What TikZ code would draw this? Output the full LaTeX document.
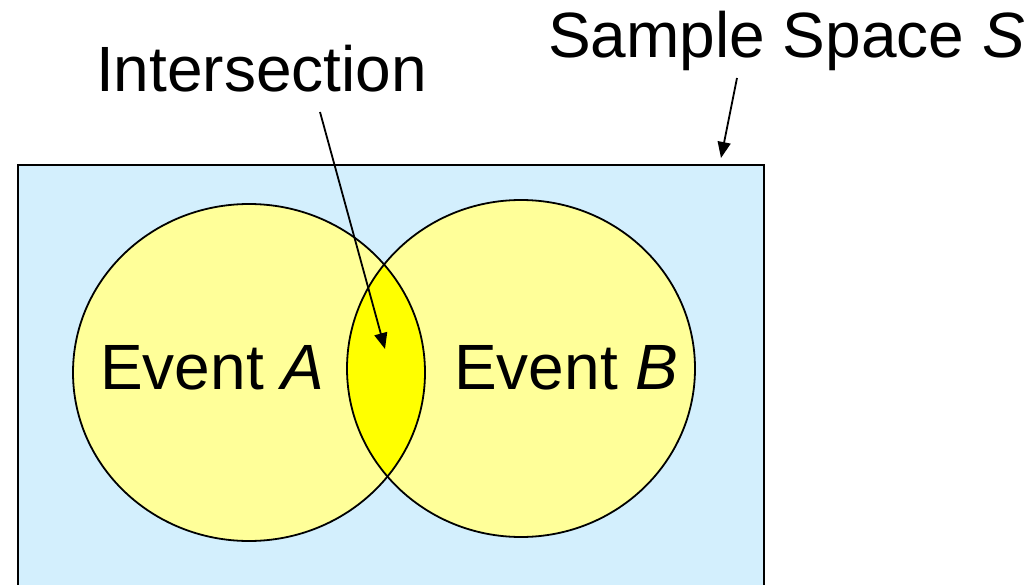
\documentclass[tikz,border=0pt]{standalone}
\usepackage{fontspec}
\setmainfont{Liberation Sans}
\usetikzlibrary{arrows.meta}
\definecolor{spaceblue}{HTML}{D3EFFD}
\definecolor{lightyel}{HTML}{FFFF99}
\definecolor{deepyel}{HTML}{FFFF00}
\tikzset{
  label/.style={inner sep=0pt, anchor=base west, font=\fontsize{64}{70}\selectfont},
  pointer/.style={line width=1.8pt, -{Triangle[length=16pt,width=13pt]}},
  outline/.style={line width=1.8pt, draw=black}
}
\begin{document}
\begin{tikzpicture}[x=1pt,y=-1pt]
\useasboundingbox (0,0) rectangle (1032,585);
\begin{scope}
\clip (0,0) rectangle (1032,585);
% sample space
\node[draw=black, line width=1.8pt, fill=spaceblue, anchor=north west, minimum width=746pt, minimum height=440pt, inner sep=0pt] (space) at (17,164) {};
% events
\fill[lightyel] (249,372.5) ellipse [x radius=176, y radius=168.5];
\fill[lightyel] (521,368.5) ellipse [x radius=174, y radius=168.5];
\begin{scope}
\clip (249,372.5) ellipse [x radius=176, y radius=168.5];
\fill[deepyel] (521,368.5) ellipse [x radius=174, y radius=168.5];
\end{scope}
\draw[outline] (249,372.5) ellipse [x radius=176, y radius=168.5];
\draw[outline] (521,368.5) ellipse [x radius=174, y radius=168.5];
\end{scope}
% labels
\node[label] (evA) at (100,389) {Event \textit{A}};
\node[label] (evB) at (454,389) {Event \textit{B}};
\node[label] (inter) at (96,92) {Intersection};
\node[label] (samp) at (548,58) {Sample Space \textit{S}};
% arrows
\coordinate (interStart) at (320,112);
\coordinate (interTip) at (385,349);
\coordinate (sampStart) at (737,78);
\coordinate (sampTip) at (721,158);
\draw[pointer] (interStart) -- (interTip);
\draw[pointer] (sampStart) -- (sampTip);
\end{tikzpicture}
\end{document}
